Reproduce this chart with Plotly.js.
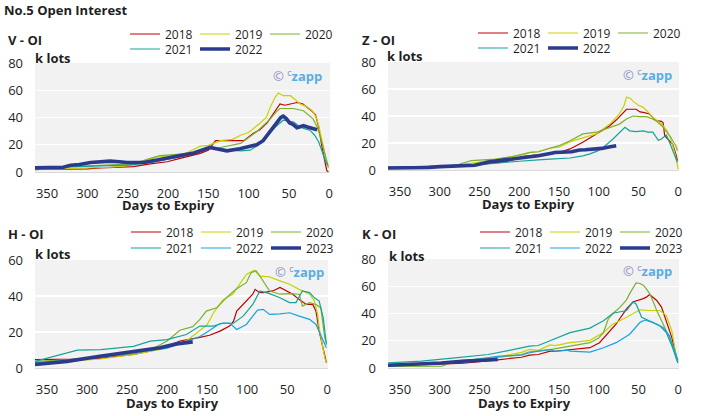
<!DOCTYPE html>
<html><head><meta charset="utf-8">
<script src="https://cdn.plot.ly/plotly-3.0.1.min.js"></script>
<style>html,body{margin:0;padding:0;background:#fff}#chart{width:715px;height:416px}</style>
</head><body><div id="chart"></div>
<script>
// ---- data: days to expiry and open interest (k lots) ----
const dayTicks = [350,300,250,200,150,100,50,0];

const V_2018_d = [365,330,300,284,260,243,222,201,185,170,160,150,141,123,106,94,86,77,67,61,55,48,40,33,28,22,17,13,9,5,3,1];
const V_2018_v = [2,2,2.3,3,3.5,4,6,7.5,10,12,13.7,16,23,23,23,28.5,31,36,45,50,49,50,51,50,48,45,42,33,18.5,6,1,0];
const V_2019_d = [365,330,300,270,243,214,193,177,160,150,135,120,110,100,86,78,73,67,63,57,48,42,36,28,21,16,13,10,7,3,1];
const V_2019_v = [2,2.5,3,3.5,5,11,12,14,19,19.5,23,24,27,29,35.8,40,47.8,55,58,56,56,53,50,48,45,40,34,26,18.5,6,3];
const V_2020_d = [365,325,300,284,243,222,210,189,170,160,135,110,100,90,80,73,66,61,50,45,32,26,20,15,11,7,3,1];
const V_2020_v = [1.5,4,4.5,5,6,10,12,13,14,16,18,21,25,29.5,35,39,44,46.6,46.6,46.6,45,42,39,33,26,17,8,4];
const V_2021_d = [365,330,300,250,220,200,185,165,148,135,123,110,98,90,82,73,65,57,50,44,38,32,24,18,13,9,5,2];
const V_2021_v = [3,3.5,4,5,7,9,11,14,18,17,16,15.5,16,19,23,29,34,38,37.5,36.6,34,32,30.7,27,22,15,8.8,5];
const V_2022_d = [365,340,330,321,310,296,285,272,260,251,230,210,189,168,148,140,127,111,98,90,82,73,65,60,57,53,49,45,40,36,32,27,22,18,15];
const V_2022_v = [3,3.3,3.5,5,5.5,7,7.5,8,7.5,7,7,9,11.5,14,18,17,15.5,17,18.5,20,23,30,37,40,41,39,36,35,32.5,33,34,33,32,31.5,31];

const Z_2018_d = [365,330,290,270,250,218,205,197,186,176,161,150,136,120,103,86,78,69,65,58,53,48,44,36,30,28,21,19,17,12,7,3,1];
const Z_2018_v = [2,2,2.2,3,4,6,8,10,10.6,11,11.9,13,15.6,20.5,26.7,32.8,37,42.7,45,45,45,43,42.7,41.5,38,36.5,36,35,25.4,22,19,12,7];
const Z_2019_d = [365,330,290,260,239,218,197,186,176,161,150,136,120,103,86,74,68,65,60,57,50,44,38,32,25,19,14,10,4,0];
const Z_2019_v = [2,2.5,3,5,7,9,11,13,13.5,16.3,17,21,23.7,26.7,34,41.5,48,54,53,51,48,46.4,43,39,36,32.8,29,24,12,0.7];
const Z_2020_d = [365,340,310,281,272,260,230,209,186,176,161,150,136,120,103,86,74,65,57,48,40,33,28,21,15,10,7,3,1];
const Z_2020_v = [1.5,1.7,2,3,5,7,8,10,13,13.5,16,18,21.7,26.7,28,31.6,34,37.8,40,39.5,39.5,38,36.5,33,29,25,21.7,18,14.3];
const Z_2021_d = [365,330,300,250,200,186,176,161,136,120,111,102,94,82,74,67,61,53,44,38,32,25,21,15,12,10,7,4,1];
const Z_2021_v = [2,2.5,3,4,6.5,7.4,7.5,8.1,8.9,10.5,11.9,14,16.8,23,28,31.6,29,28.4,29,28,28,22,23,26,22,19,15,10.6,5.7];
const Z_2022_d = [365,340,314,300,281,265,256,245,239,218,197,186,176,161,155,134,124,117,103,96,87,78];
const Z_2022_v = [1.5,1.5,1.8,2.5,3,3.2,3.5,5,6,7.5,9,9.4,10.5,12.3,13,13.5,14.8,15,15.6,16,17,18];

const H_2018_d = [365,330,304,283,242,220,200,184,170,159,147,134,122,117,113,101,93,90,85,80,68,59,51,43,35,26,18,14,10,6,3,1];
const H_2018_v = [4.6,4.8,5,5.5,7.5,9.5,12,15,16,17,18.2,20.5,23.3,26,31.6,37.2,41,43.7,42,41.9,42.8,44.7,42.8,41,38,35.3,35.3,31.6,20.5,12,5.6,3];
const H_2019_d = [365,330,283,242,200,184,176,159,150,142,130,118,109,101,95,91,84,72,59,47,35,22,16,12,10,6,3,1];
const H_2019_v = [3,3.5,5,7.5,11,14,15,21,24,30.7,38,41,46.5,52,53.5,54.3,51,50.6,48.4,46.5,43.7,41,37.2,30,22.3,12,5.6,3];
const H_2020_d = [365,325,283,242,221,200,184,168,159,151,138,126,114,101,95,89,84,80,72,59,47,35,31,22,14,8,5,3,1];
const H_2020_v = [3.7,4.5,6,8,10,15,21,23,27,31.6,33.5,39,43.7,47.4,53,54,51,48.4,42.8,41,41.3,41,34.4,36.3,35.3,33.5,25,16.7,14];
const H_2021_d = [365,333,312,283,242,221,200,176,159,142,130,118,105,93,84,72,59,47,39,31,22,16,10,5,1];
const H_2021_v = [3.7,7.4,9.9,10.2,12,14.9,15.8,18.6,23.3,23.3,25,24.6,28.8,35.3,42.8,41.3,39,36.3,36.3,42.8,41.9,39,37.2,28,13];
const H_2022_d = [365,325,283,242,200,184,170,159,150,134,122,113,101,87,80,72,59,47,35,22,14,8,1];
const H_2022_v = [3,4,6,8.5,11,13.5,15.5,17.5,20,24.7,25,21.4,24.2,32.2,32.6,29.8,30.1,30.7,28.8,27,24.2,18.6,11.2];
const H_2023_d = [365,325,284,242,209,188,168];
const H_2023_v = [1.9,3.7,6.5,9.3,11.2,13.4,14.5];

const K_2018_d = [365,330,300,270,250,227,197,187,176,161,155,136,111,99,86,78,65,57,44,40,36,34,27,21,15,8,2,0.5];
const K_2018_v = [2,2.2,2.8,3.5,4.5,6,7.9,9.4,9.9,12.4,12.3,13.4,14.9,18.6,27.3,32.3,43.4,48.4,50.9,52,54,53,49.6,44.7,34.7,22.3,7.4,5];
const K_2019_d = [365,330,281,250,227,197,187,176,161,155,136,111,94,82,69,57,48,36,23,15,8,2,0.5];
const K_2019_v = [2.5,3,4.5,6,8,11.5,13.6,13,16.9,16.5,18.6,20.3,26,32.3,36,39.7,42.7,42.2,42.2,38.5,27.3,7.4,4];
const K_2020_d = [365,330,297,281,239,197,187,161,136,111,100,94,88,82,73,65,61,55,53,48,44,40,36,31,27,19,11,2,0.5];
const K_2020_v = [1.2,1.2,1.3,5,7,9.9,11.9,13.5,16,18.6,22,26,36,40,44.7,50,54.6,60,62.5,62,60.8,58,54.6,48,42.2,32.3,22.3,7.4,5];
const K_2021_d = [365,323,281,239,214,187,176,161,155,136,111,94,82,65,57,53,46,36,23,15,7,0.5];
const K_2021_v = [3.7,5,7.4,9.9,12.8,16,16.5,20,21,26,29.3,34.7,40.2,42.2,48.4,47,37.2,34.7,31,26,14.9,3.7];
const K_2022_d = [365,330,281,250,227,197,187,161,155,140,136,111,94,78,61,48,42,32,19,11,2,0.5];
const K_2022_v = [2.5,3,4.4,6.5,8.6,9.4,11.2,13.6,12.3,13,12.4,11.7,14.9,18.6,24.8,33.5,35.2,33.5,29.8,23.6,8.7,6];
const K_2023_d = [365,323,298,272,251,227];
const K_2023_v = [2,3,3.7,4.9,5.4,6.2];

// ---- styling ----
const COL = {'2018':'#c00000','2019':'#c6d300','2020':'#7cb130','2021':'#17a398','2022':'#16a2e0','2023':'#2b3a8c'};
const NAVY = '#2b3a8c';
const W = 715, H = 416;
const FONT = 'Open Sans, sans-serif';
const TXT = '#1f1f1f';

function tr(d, v, name, ax, legend, bold) {
  return {
    type:'scatter', mode:'lines', x:d, y:v, name:name,
    xaxis:'x'+(ax===1?'':ax), yaxis:'y'+(ax===1?'':ax),
    legend: legend,
    line:{color: bold ? NAVY : COL[name], width: bold ? 3.6 : 1.2},
    hoverinfo:'skip'
  };
}

const data = [
  tr(V_2018_d,V_2018_v,'2018',1,'legend'), tr(V_2019_d,V_2019_v,'2019',1,'legend'), tr(V_2020_d,V_2020_v,'2020',1,'legend'),
  tr(V_2021_d,V_2021_v,'2021',1,'legend2'), tr(V_2022_d,V_2022_v,'2022',1,'legend2',true),
  tr(Z_2018_d,Z_2018_v,'2018',2,'legend3'), tr(Z_2019_d,Z_2019_v,'2019',2,'legend3'), tr(Z_2020_d,Z_2020_v,'2020',2,'legend3'),
  tr(Z_2021_d,Z_2021_v,'2021',2,'legend4'), tr(Z_2022_d,Z_2022_v,'2022',2,'legend4',true),
  tr(H_2018_d,H_2018_v,'2018',3,'legend5'), tr(H_2019_d,H_2019_v,'2019',3,'legend5'), tr(H_2020_d,H_2020_v,'2020',3,'legend5'),
  tr(H_2021_d,H_2021_v,'2021',3,'legend6'), tr(H_2022_d,H_2022_v,'2022',3,'legend6'), tr(H_2023_d,H_2023_v,'2023',3,'legend6',true),
  tr(K_2018_d,K_2018_v,'2018',4,'legend7'), tr(K_2019_d,K_2019_v,'2019',4,'legend7'), tr(K_2020_d,K_2020_v,'2020',4,'legend7'),
  tr(K_2021_d,K_2021_v,'2021',4,'legend8'), tr(K_2022_d,K_2022_v,'2022',4,'legend8'), tr(K_2023_d,K_2023_v,'2023',4,'legend8',true)
];

function xa(x0, x1, anchor) {
  return {domain:[x0/W, x1/W], anchor:anchor, range:[365,-1], tickvals:dayTicks, ticks:'',
    showgrid:false, zeroline:false, showline:true, linecolor:'#d9d9d9', linewidth:1,
    ticklabelstandoff:9, tickfont:{family:FONT, size:13, color:TXT}, fixedrange:true};
}
function ya(top, bottom, max, anchor) {
  return {domain:[1-bottom/H, 1-top/H], anchor:anchor, range:[0,max], dtick:20, ticks:'',
    showgrid:true, gridcolor:'#ffffff', gridwidth:1.2, zeroline:false, showline:false,
    ticklabelstandoff:11, tickfont:{family:FONT, size:13, color:TXT}, fixedrange:true};
}
function lg(textX, rowY) {
  return {orientation:'h', xref:'paper', yref:'paper', x:(textX-40)/W, y:1-rowY/H,
    xanchor:'left', yanchor:'middle', bgcolor:'rgba(0,0,0,0)', borderwidth:0,
    entrywidth:25, entrywidthmode:'pixels', tracegroupgap:0, traceorder:'normal',
    font:{family:FONT, size:12, color:TXT}};
}
function ann(text, x, y, xanchor, size) {
  return {text:text, xref:'paper', yref:'paper', x:x/W, y:1-y/H, xanchor:xanchor, yanchor:'middle',
    showarrow:false, font:{family:FONT, size:size||13, color:TXT}};
}
function wm(xRight, y) {
  return {text:'<span style="color:#8b90c4">©</span> <span style="color:#8b90c4"><sup>c</sup></span><b style="color:#5aaee2">zapp</b>',
    xref:'paper', yref:'paper', x:xRight/W, y:1-y/H, xanchor:'right', yanchor:'middle',
    showarrow:false, font:{family:FONT, size:13, color:'#5aaee2'}};
}

const layout = {
  width:W, height:H, margin:{l:0,r:0,t:0,b:0},
  paper_bgcolor:'#ffffff', plot_bgcolor:'#f2f2f2',
  font:{family:FONT, color:TXT},
  xaxis: xa(35,330,'y'),  yaxis: ya(63,172,80,'x'),
  xaxis2: xa(388,679,'y2'), yaxis2: ya(62,170,80,'x2'),
  xaxis3: xa(35,328,'y3'), yaxis3: ya(260,368,60,'x3'),
  xaxis4: xa(388,679,'y4'), yaxis4: ya(259,368,80,'x4'),
  legend: lg(165,34), legend2: lg(165,49),
  legend3: lg(513,33), legend4: lg(513,48),
  legend5: lg(166,232), legend6: lg(166,248),
  legend7: lg(515,232), legend8: lg(515,248),
  annotations: [
    ann('<b>No.5 Open Interest</b>',2,10,'left'),
    ann('<b>V - OI</b>',6,40,'left'), ann('<b>Z - OI</b>',360,40,'left'),
    ann('<b>H - OI</b>',6,234,'left'), ann('<b>K - OI</b>',360,234,'left'),
    ann('<b>k lots</b>',33,58,'left'), ann('<b>k lots</b>',385,56,'left'),
    ann('<b>k lots</b>',33,254,'left'), ann('<b>k lots</b>',387,256,'left'),
    ann('<b>Days to Expiry</b>',168,205,'center'), ann('<b>Days to Expiry</b>',528,204,'center'),
    ann('<b>Days to Expiry</b>',172,403,'center'), ann('<b>Days to Expiry</b>',524,403,'center'),
    wm(324,75), wm(674,74), wm(326,271), wm(674,270)
  ],
  showlegend:true
};

Plotly.newPlot('chart', data, layout, {staticPlot:true, displayModeBar:false});
</script>
</body></html>
